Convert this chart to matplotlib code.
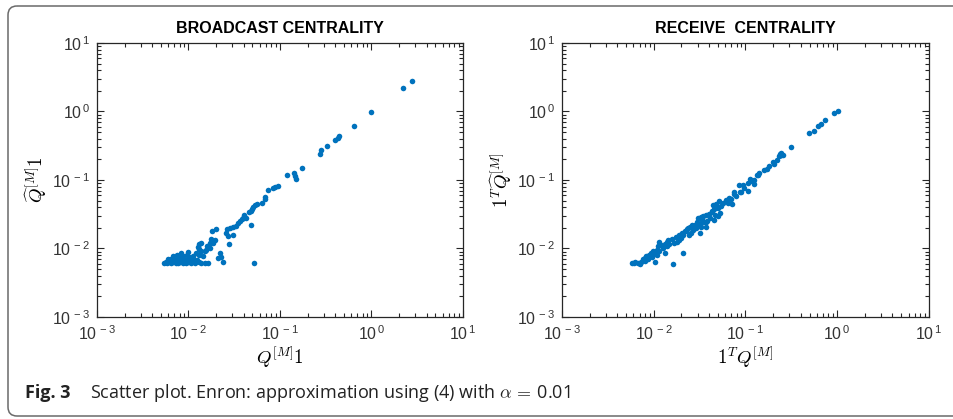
import numpy as np
import matplotlib
matplotlib.use("Agg")
import matplotlib.pyplot as plt
from matplotlib.patches import FancyBboxPatch
from matplotlib.ticker import LogLocator, NullFormatter, FuncFormatter

plt.rcParams['font.family'] = ['Liberation Sans', 'DejaVu Sans']

# broadcast centrality, log10 of (Q^[M] 1, Qhat^[M] 1)
bc_logx = [0.44, 0.34, 0.00, -0.19, -0.35, -0.37, -0.40, -0.49, -0.55, -0.56,
           -0.76, -0.85, -0.84, -0.82, -0.92, -1.02, -1.05, -1.08, -1.13, -1.16,
           -1.16, -1.20, -1.25, -1.27, -1.30, -1.31, -1.32, -1.34, -1.37, -1.39,
           -1.40, -1.42, -1.44, -1.46, -1.48, -1.51, -1.55, -1.58, -1.32, -1.51,
           -1.56, -1.59, -1.57, -1.70, -1.74, -1.71, -1.75, -1.73, -1.77, -1.80,
           -1.77, -1.81, -1.82, -1.86, -1.89, -1.90, -1.89, -1.86, -1.66, -1.64,
           -1.68, -1.62, -1.28, -1.79, -1.82, -1.84,
           -2.27, -2.24, -2.22, -2.19, -2.17, -2.14, -2.11, -2.09, -2.06, -2.03,
           -2.00, -1.97, -1.93, -1.89, -1.86,
           -2.22, -2.19, -2.15, -2.11, -2.08, -2.04, -2.01, -1.95, -1.91,
           -2.17, -2.13, -2.10, -2.06, -2.02, -1.99, -1.95, -1.88,
           -2.08, -2.01, -1.92, -2.25, -2.20, -2.13, -2.05, -1.98]
bc_logy = [0.45, 0.34, -0.01, -0.21, -0.36, -0.38, -0.41, -0.51, -0.56, -0.62,
           -0.82, -0.90, -0.94, -0.98, -0.92, -1.09, -1.10, -1.12, -1.15, -1.25,
           -1.28, -1.33, -1.35, -1.37, -1.40, -1.43, -1.45, -1.46, -1.55, -1.51,
           -1.55, -1.57, -1.60, -1.63, -1.67, -1.69, -1.70, -1.72, -1.66, -1.81,
           -1.94, -1.77, -1.82, -1.72, -1.75, -1.87, -1.86, -1.92, -1.92, -1.97,
           -1.99, -2.02, -2.04, -1.92, -1.94, -1.98, -2.01, -2.04, -2.07, -2.12,
           -2.14, -2.19, -2.21, -2.21, -2.21, -2.11,
           -2.21, -2.21, -2.20, -2.21, -2.20, -2.21, -2.21, -2.20, -2.21, -2.21,
           -2.20, -2.21, -2.21, -2.20, -2.21,
           -2.16, -2.15, -2.17, -2.16, -2.15, -2.17, -2.16, -2.15, -2.17,
           -2.11, -2.10, -2.12, -2.11, -2.10, -2.12, -2.11, -2.10,
           -2.06, -2.05, -2.07, -2.19, -2.18, -2.19, -2.18, -2.19]

# receive centrality, log10 of (1^T Q^[M], 1^T Qhat^[M])
rc_logx = [0.01, -0.03, -0.13, -0.18, -0.21, -0.25, -0.31, -0.50,
           -0.61, -0.59, -0.64, -0.61, -0.66, -0.69, -0.74, -0.77,
           -0.85, -0.88, -0.91, -0.95, -0.91, -0.97, -1.03, -1.07, -1.05, -1.06, -1.10, -1.12,
           -1.18, -1.21, -1.19, -1.15, -1.29, -1.32, -1.35, -1.30, -1.34, -1.37, -1.28, -1.33,
           -1.43, -1.46, -1.49, -1.52, -1.47, -1.43, -1.50, -1.55, -1.59, -1.63, -1.43,
           -1.30, -1.34, -1.39, -1.42, -1.45, -1.48, -1.50, -1.54, -1.57, -1.50, -1.59,
           -1.62, -1.65, -1.66, -1.68, -1.70, -1.73, -1.75, -1.78, -1.83, -1.86, -1.86,
           -1.90, -1.94, -1.95, -1.97, -2.01, -2.03, -2.05, -2.08, -2.10, -2.12, -2.14,
           -2.17, -2.21, -2.24, -1.99, -1.79, -1.68, -1.88, -1.94,
           -2.02, -2.00, -1.98, -1.96, -2.06, -2.10, -2.15, -2.20, -1.92, -1.88,
           -1.84, -1.80, -1.76, -1.72, -1.69, -1.64, -1.61, -1.58, -1.53, -1.47,
           -1.40, -1.36, -1.31, -1.27, -1.24, -1.16, -1.12, -1.02, -0.97, -0.93,
           -0.86, -0.80, -0.70, -0.62, -0.61]
rc_logy = [0.01, -0.02, -0.13, -0.18, -0.21, -0.28, -0.31, -0.52,
           -0.61, -0.64, -0.65, -0.63, -0.71, -0.77, -0.79, -0.84,
           -0.90, -0.92, -1.00, -0.99, -1.06, -1.16, -1.07, -1.07, -1.17, -1.18, -1.23, -1.17,
           -1.26, -1.29, -1.33, -1.35, -1.31, -1.35, -1.36, -1.41, -1.43, -1.46, -1.48, -1.51,
           -1.51, -1.53, -1.54, -1.56, -1.59, -1.62, -1.65, -1.65, -1.68, -1.70, -1.68,
           -1.53, -1.58, -1.56, -1.60, -1.62, -1.68, -1.64, -1.70, -1.73, -1.77, -1.77,
           -1.81, -1.74, -1.75, -1.81, -1.85, -1.87, -1.90, -1.92, -1.94, -1.90, -1.97,
           -1.99, -1.90, -1.97, -2.02, -2.04, -2.07, -2.09, -2.11, -2.14, -2.16, -2.19,
           -2.21, -2.21, -2.21, -2.19, -2.23, -2.07, -2.07, -2.04,
           -2.12, -2.08, -2.05, -2.10, -2.15, -2.18, -2.22, -2.20, -1.95, -1.93,
           -1.88, -1.86, -1.83, -1.80, -1.78, -1.72, -1.69, -1.66, -1.62, -1.55,
           -1.50, -1.45, -1.40, -1.38, -1.34, -1.28, -1.20, -1.12, -1.05, -1.02,
           -0.93, -0.86, -0.73, -0.62, -0.64]

panels = [
    ("BROADCAST CENTRALITY", bc_logx, bc_logy,
     r"$Q^{[M]}\mathbf{1}$", r"$\widehat{Q}^{[M]}\mathbf{1}$"),
    ("RECEIVE  CENTRALITY", rc_logx, rc_logy,
     r"$\mathbf{1}^T Q^{[M]}$", r"$\mathbf{1}^T\widehat{Q}^{[M]}$"),
]


def pow10(v, pos):
    # MATLAB-style "10 ^-3" labels with a small gap before the exponent
    return r"$\mathregular{10^{\,%d}}$" % round(np.log10(v))


W, H = 954, 419
fig = plt.figure(figsize=(W / 100, H / 100), dpi=100)

# rounded frame around the figure and caption
bg = fig.add_axes([0, 0, 1, 1])
bg.set_xlim(0, W)
bg.set_ylim(H, 0)
bg.axis("off")
bg.add_patch(FancyBboxPatch((8, 6), 980, 410, boxstyle="round,pad=0,rounding_size=9",
                            fc="none", ec="#6a6a6a", lw=1.1))

axes_px = [(97, 43, 366, 274), (562, 43, 367, 274)]
dark = "#262626"

for (x0, y0, w, h), (title, lx, ly, xl, yl) in zip(axes_px, panels):
    ax = fig.add_axes([x0 / W, 1 - (y0 + h) / H, w / W, h / H])
    ax.plot(10 ** np.array(lx), 10 ** np.array(ly), 'o', color="#0072BD",
            ms=4.0, mew=0)
    ax.set_xscale("log")
    ax.set_yscale("log")
    ax.set_xlim(1e-3, 1e1)
    ax.set_ylim(1e-3, 1e1)
    for axis in (ax.xaxis, ax.yaxis):
        axis.set_major_locator(LogLocator(base=10, numticks=10))
        axis.set_major_formatter(FuncFormatter(pow10))
        axis.set_minor_locator(LogLocator(base=10, subs=np.arange(2, 10), numticks=10))
        axis.set_minor_formatter(NullFormatter())
    ax.tick_params(which="both", direction="in", top=True, right=True,
                   colors=dark, labelcolor="#333333", width=0.8)
    ax.tick_params(which="major", length=5, labelsize=11.5, pad=5)
    ax.tick_params(which="minor", length=2.8)
    for s in ax.spines.values():
        s.set_color(dark)
        s.set_linewidth(0.9)
    ax.set_title(title, fontsize=11.5, fontweight="bold", pad=7)
    ax.set_xlabel(xl, fontsize=13.5, math_fontfamily="cm", labelpad=1)
    ax.set_ylabel(yl, fontsize=13.5, math_fontfamily="cm", labelpad=2)

fig.text(25 / W, 1 - 393 / H, "Fig. 3", fontsize=13, fontweight="bold",
         family=["Open Sans", "DejaVu Sans"], va="center", color="#222222")
fig.text(90 / W, 1 - 393 / H,
         r"Scatter plot. Enron: approximation using (4) with $\alpha\,=\,$0.01",
         fontsize=13, family=["Open Sans", "DejaVu Sans"], va="center",
         color="#222222", math_fontfamily="cm")

fig.savefig("out.png", dpi=100)
